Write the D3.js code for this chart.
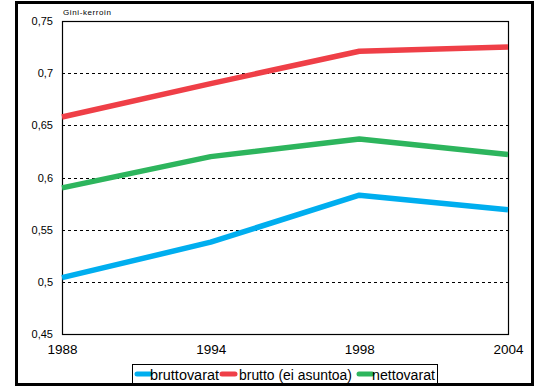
<!DOCTYPE html>
<html><head><meta charset="utf-8">
<script src="https://cdn.jsdelivr.net/npm/d3@7"></script>
<style>body{margin:0;background:#fff}svg{display:block}</style>
</head><body>
<script>
const years = ["1988","1994","1998","2004"];
const bruttovarat = [0.504, 0.538, 0.583, 0.569];
const bruttoEiAsuntoa = [0.658, 0.690, 0.721, 0.725];
const nettovarat = [0.590, 0.620, 0.637, 0.622];
const yTicks = [0.45, 0.5, 0.55, 0.6, 0.65, 0.7, 0.75];
const seriesNames = ["bruttovarat", "brutto (ei asuntoa)", "nettovarat"];
const colors = ["#00aeef", "#ef3f47", "#2db55d"];

const W = 560, H = 388;
const svg = d3.select("body").append("svg").attr("width", W).attr("height", H);
const m = {l: 62, r: 508, t: 21, b: 334};
const x = d3.scalePoint().domain(years).range([m.l, m.r]);
const y = d3.scaleLinear().domain([0.45, 0.75]).range([m.b, m.t]);

svg.append("rect").attr("x", 16.5).attr("y", 2.5).attr("width", 516).attr("height", 382)
  .attr("fill", "none").attr("stroke", "#000").attr("stroke-width", 3);

// gridlines
svg.append("g").selectAll("line").data(yTicks.filter(d => d > 0.46 && d < 0.74)).join("line")
  .attr("x1", m.l).attr("x2", m.r).attr("y1", d => Math.round(y(d)) + 0.5).attr("y2", d => Math.round(y(d)) + 0.5)
  .attr("stroke", "#000").attr("stroke-dasharray", "3,3").attr("stroke-width", 1);

// plot frame
svg.append("rect").attr("x", m.l + 0.5).attr("y", m.t + 0.5).attr("width", m.r - m.l).attr("height", m.b - m.t)
  .attr("fill", "none").attr("stroke", "#000").attr("stroke-width", 1.2);

// y axis
const yAxis = d3.axisLeft(y).tickValues(yTicks).tickSize(0).tickPadding(9)
  .tickFormat(d => d3.format(".2~f")(d).replace(".", ","));
const gy = svg.append("g").attr("transform", `translate(${m.l},0)`).call(yAxis);
gy.select(".domain").remove();
gy.selectAll("text").attr("font-family", "Liberation Sans, Arial, sans-serif").attr("font-size", 11).attr("fill", "#000");

// x axis
const xAxis = d3.axisBottom(x).tickSize(0).tickPadding(10);
const gx = svg.append("g").attr("transform", `translate(0,${m.b})`).call(xAxis);
gx.select(".domain").remove();
gx.selectAll("text").attr("font-family", "Liberation Sans, Arial, sans-serif").attr("font-size", 13.5).attr("fill", "#000");

svg.append("text").attr("x", 63).attr("y", 15).text("Gini-kerroin")
  .attr("font-family", "Liberation Sans, Arial, sans-serif").attr("font-size", 8).attr("letter-spacing", 0.6);

const data = [bruttovarat, bruttoEiAsuntoa, nettovarat];
const line = d3.line().x((d, i) => x(years[i])).y(d => y(d));
svg.append("g").selectAll("path").data(data).join("path")
  .attr("d", line).attr("fill", "none").attr("stroke", (d, i) => colors[i])
  .attr("stroke-width", 5.5).attr("stroke-linejoin", "round");

// legend
const lg = svg.append("g");
lg.append("rect").attr("x", 132.5).attr("y", 364.5).attr("width", 305).attr("height", 19)
  .attr("fill", "#fff").attr("stroke", "#000").attr("stroke-width", 1);
const legX = [134, 219, 356];
const legTextW = [69, 113, 63];
seriesNames.forEach((n, i) => {
  lg.append("line").attr("x1", legX[i] + 3).attr("x2", legX[i] + 16).attr("y1", 374).attr("y2", 374)
    .attr("stroke", colors[i]).attr("stroke-width", 5).attr("stroke-linecap", "round");
  lg.append("text").attr("x", legX[i] + (i === 1 ? 20 : 16)).attr("y", 379.5).text(n)
    .attr("font-family", "Liberation Sans, Arial, sans-serif").attr("font-size", 14)
    .attr("textLength", legTextW[i]).attr("lengthAdjust", "spacingAndGlyphs").attr("fill", "#000");
});
</script>
</body></html>
